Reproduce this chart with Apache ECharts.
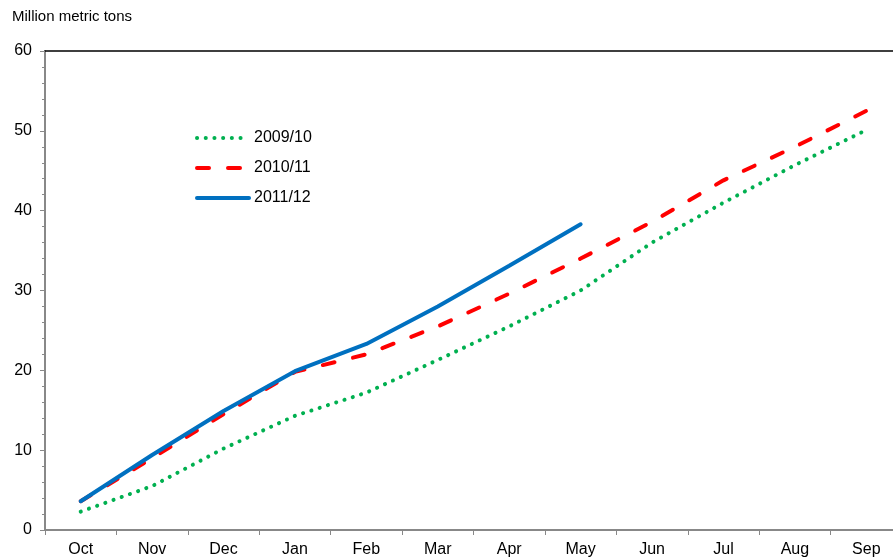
<!DOCTYPE html>
<html>
<head>
<meta charset="utf-8">
<script src="https://cdn.jsdelivr.net/npm/echarts@6/dist/echarts.min.js"></script>
<style>
  html, body { margin: 0; padding: 0; background: #fff; overflow: hidden; }
  #chart { width: 902px; height: 559px; }
</style>
</head>
<body>
<div id="chart"></div>
<script>
    var months = ['Oct', 'Nov', 'Dec', 'Jan', 'Feb', 'Mar', 'Apr', 'May', 'Jun', 'Jul', 'Aug', 'Sep'];
    var s0910 = [2.3, 5.5, 10.2, 14.3, 17.2, 21.3, 25.5, 30.0, 36.0, 41.0, 45.7, 50.1];
    var s1011 = [3.6, 9.0, 14.5, 19.8, 22.0, 25.5, 29.6, 34.0, 38.6, 43.8, 48.0, 52.5];
    var s1112 = [3.6, 9.4, 14.9, 19.9, 23.3, 28.0, 33.1, 38.3];

    // chart div is a bit wider than the window: the plot runs off the right edge
    var myChart = echarts.init(document.getElementById('chart'));

    var font = 'Liberation Sans, Arial, sans-serif';

    option = {
        animation: false,
        textStyle: { fontFamily: font },
        title: {
            text: 'Million metric tons',
            left: 7, top: 4,
            textStyle: { fontSize: 15, fontWeight: 'normal', color: '#000', fontFamily: font }
        },
        legend: {
            orient: 'vertical',
            left: 190, top: 125,
            itemWidth: 52, itemHeight: 14, itemGap: 14,
            itemStyle: { opacity: 0 },
            lineStyle: { width: 4 },
            textStyle: { fontSize: 16, color: '#000', fontFamily: font },
            data: ['2009/10', '2010/11', '2011/12']
        },
        grid: { left: 45, top: 51, right: 0, bottom: 29, containLabel: false },
        xAxis: [
            {
                type: 'category',
                data: months,
                boundaryGap: true,
                axisLine: { lineStyle: { color: '#888', width: 2 } },
                axisTick: { show: true, length: 5, lineStyle: { color: '#888' } },
                axisLabel: { color: '#000', fontSize: 16, margin: 12 }
            },
            {
                type: 'category',
                data: months,
                position: 'top',
                boundaryGap: true,
                axisLine: { lineStyle: { color: '#000', width: 1.5 } },
                axisTick: { show: false },
                axisLabel: { show: false }
            }
        ],
        yAxis: {
            type: 'value',
            min: 0, max: 60, interval: 10,
            axisLine: { show: true, lineStyle: { color: '#888', width: 2 } },
            axisTick: { show: true, length: 5, lineStyle: { color: '#888' } },
            minorTick: { show: true, splitNumber: 5, length: 3, lineStyle: { color: '#888' } },
            splitLine: { show: false },
            axisLabel: { color: '#000', fontSize: 16, margin: 13 }
        },
        series: [
            {
                name: '2009/10',
                type: 'line',
                data: s0910,
                symbol: 'none',
                itemStyle: { color: '#00B050' },
                lineStyle: { color: '#00B050', width: 4, type: [0.1, 8.6], cap: 'round' }
            },
            {
                name: '2010/11',
                type: 'line',
                data: s1011,
                symbol: 'none',
                itemStyle: { color: '#FF0000' },
                lineStyle: { color: '#FF0000', width: 4, type: [12, 19], cap: 'round' }
            },
            {
                name: '2011/12',
                type: 'line',
                data: s1112,
                symbol: 'none',
                itemStyle: { color: '#0070C0' },
                lineStyle: { color: '#0070C0', width: 4, cap: 'round' }
            }
        ]
    };

    myChart.setOption(option);
</script>
</body>
</html>
